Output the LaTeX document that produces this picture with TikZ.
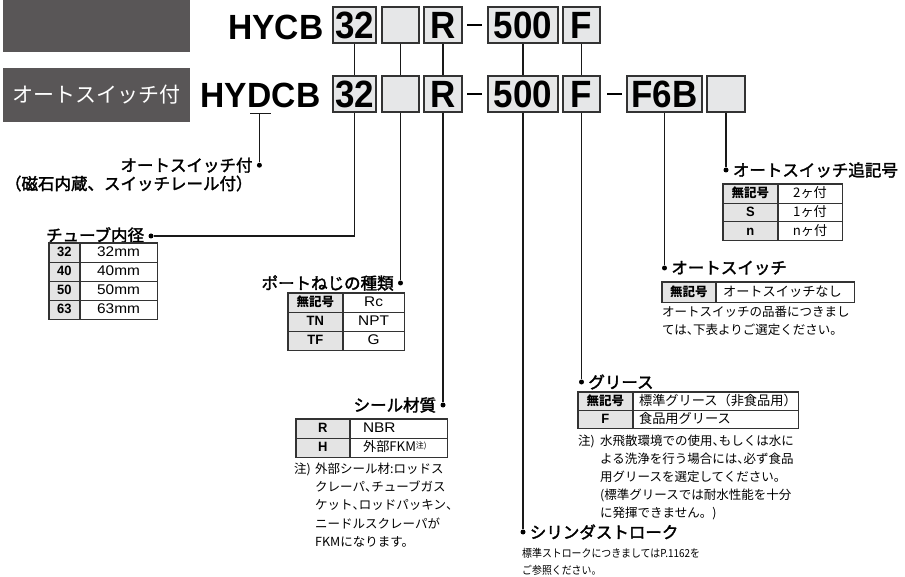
\documentclass[tikz,border=0pt]{standalone}
\usepackage{fontspec}
\usepackage{tikz}
\usetikzlibrary{positioning}
\newfontfamily\jpfont{Noto Sans CJK JP}
\newfontfamily\jphead{Noto Sans CJK JP}[FakeBold=2]
\newfontfamily\jpnarrow{Noto Sans CJK JP}[FakeStretch=0.9]
\newfontfamily\codefont{Liberation Sans}[FakeStretch=0.96]
\newfontfamily\boxfont{Liberation Sans}[FakeStretch=0.92]
\newfontfamily\latfont{Liberation Sans}[FakeStretch=1.1]
\newcommand\tc{{\addfontfeature{RawFeature=+halt}、}}
\newcommand\chu{\raisebox{3.5pt}{\fontsize{8}{8}\selectfont 注)}}
\definecolor{bannergray}{HTML}{595657}
\definecolor{boxgray}{HTML}{E6E7E8}
\definecolor{cellgray}{HTML}{E4E4E4}
\definecolor{rulegray}{HTML}{333333}

\tikzset{
  banner/.style={fill=bannergray, inner sep=0},
  model/.style={inner sep=0, font=\codefont\bfseries\fontsize{35}{35}\selectfont},
  codebox/.style={draw=rulegray, fill=boxgray, line width=1.3pt, minimum height=36,
    inner sep=0, text height=27, text depth=0, font=\boxfont\bfseries\fontsize{38}{38}\selectfont},
  dashmark/.style={fill=black, inner sep=0, minimum width=15, minimum height=2.7},
  lead/.style={line width=1.3pt, black!90},
  dot/.style={circle, fill=black, inner sep=0, minimum size=5},
  heading/.style={inner sep=0, font=\jphead\fontsize{16.5}{19}\selectfont},
  codecell/.style={draw=rulegray, fill=cellgray, line width=0.7pt, anchor=north west, inner sep=0,
    text height=10.5, text depth=2.5, font=\jpfont\bfseries\fontsize{12.5}{14}\selectfont},
  latcode/.style={codecell, font=\codefont\bfseries\fontsize{13.5}{14}\selectfont},
  valcell/.style={draw=rulegray, fill=white, line width=0.7pt, anchor=north west, inner sep=0,
    text height=10.5, text depth=2.5, font=\jpfont\fontsize{13.2}{15}\selectfont},
  latval/.style={valcell, font=\latfont\fontsize{14}{15}\selectfont},
  tabframe/.style={draw=rulegray, line width=1.2pt},
  note/.style={inner sep=0, align=left, anchor=north west, font=\jpfont\fontsize{12.5}{18.3}\selectfont},
}

\begin{document}
\begin{tikzpicture}[x=1pt, y=-1pt]
\useasboundingbox (0,0) rectangle (905,577);

% banners
\node[banner, minimum width=187, minimum height=52] (ban1) at (96.5,26) {};
\node[banner, minimum width=187, minimum height=54, text=white,
  font=\jpfont\fontsize{21}{21}\selectfont] (ban2) at (96.5,95) {オートスイッチ付};

% model codes
\node[model, anchor=base west] (hycb) at (228,40) {HYCB};
\node[model, anchor=base west] (hy) at (200,108) {HY};
\node[model, anchor=base west] (hyd) at (hy.base east) {D};
\node[model, anchor=base west] (hycb2) at (hyd.base east) {CB};

\foreach \n/\x/\w/\t in {32/354.5/43/32, bl/400.5/37/{}, R/443/38/R, 500/523/70/500, F/581.5/37/F}{
  \node[codebox, minimum width=\w] (t\n) at (\x,25) {\t};
  \node[codebox, minimum width=\w] (b\n) at (\x,94) {\t};
  \draw[lead] (t\n.south) -- (b\n.north);
}
\node[codebox, minimum width=75] (bF6B) at (664.5,94) {F6B};
\node[codebox, minimum width=38] (bbl2) at (726,94) {};
\node[dashmark] (dash1) at (474.5,25) {};
\node[dashmark] (dash2) at (474.5,94) {};
\node[dashmark] (dash3) at (614,94) {};

% dots
\path (hyd.south) ++(0,57) node[dot] (dAS) {};
\node[dot] (dTube) at (151,236) {};
\node[dot] (dPort) at (bbl.south |- 0,283) {};
\node[dot] (dSeal) at (bR.south |- 0,405) {};
\node[dot] (dGrease) at (bF.south |- 0,382) {};
\node[dot] (dStroke) at (b500.south |- 0,532) {};
\node[dot] (dSwitch) at (bF6B.south |- 0,268) {};
\node[dot] (dSuffix) at (bbl2.south |- 0,170) {};

% leads
\draw[lead] ([shift={(3pt,-5pt)}]hyd.south west) -- ([shift={(-1pt,-5pt)}]hyd.south east);
\draw[lead] ([yshift=-5pt]hyd.south) -- (dAS);
\draw[lead] (b32.south) |- (dTube);
\draw[lead] (bbl.south) -- (dPort);
\draw[lead] (bR.south) -- (dSeal);
\draw[lead] (b500.south) -- (dStroke);
\draw[lead] (bF.south) -- (dGrease);
\draw[lead] (bF6B.south) -- (dSwitch);
\draw[lead] (bbl2.south) -- (dSuffix);

% headings
\node[heading, left=4pt of dAS] (lAS1) {オートスイッチ付};
\node[heading, anchor=north east] (lAS2) at ([yshift=-2.5pt]lAS1.south east) {（磁石内蔵、スイッチレール付）};
\node[heading, left=4pt of dTube, yshift=1pt] (lTube) {チューブ内径};
\node[heading, left=4pt of dPort] (lPort) {ポートねじの種類};
\node[heading, left=4pt of dSeal] (lSeal) {シール材質};
\node[heading, right=4pt of dGrease] (lGrease) {グリース};
\node[heading, right=4pt of dStroke] (lStroke) {シリンダストローク};
\node[heading, right=4pt of dSwitch] (lSwitch) {オートスイッチ};
\node[heading, right=4pt of dSuffix] (lSuffix) {オートスイッチ追記号};

% チューブ内径
\foreach \c/\v [count=\i] in {32/32mm,40/40mm,50/50mm,63/63mm}{
  \node[latcode, minimum width=30, minimum height=19] (tube-c\i) at (49,224+19*\i) {\c};
  \node[latval, minimum width=77, minimum height=19] (tube-v\i) at (tube-c\i.north east) {\v};
}
\draw[tabframe] (tube-c1.north west) rectangle (tube-v4.south east);

% ポートねじ
\node[codecell, minimum width=54, minimum height=19] (port-c1) at (288,293) {無記号};
\node[latval, minimum width=61, minimum height=19] (port-v1) at (port-c1.north east) {Rc};
\foreach \c/\v [count=\i from 2] in {TN/NPT,TF/G}{
  \node[latcode, minimum width=54, minimum height=19] (port-c\i) at (288,274+19*\i) {\c};
  \node[latval, minimum width=61, minimum height=19] (port-v\i) at (port-c\i.north east) {\v};
}
\draw[tabframe] (port-c1.north west) rectangle (port-v3.south east);

% シール材質
\node[latcode, minimum width=53, minimum height=19] (seal-c1) at (296,419) {R};
\node[latval, inner xsep=13, text width=71, align=left, minimum height=19] (seal-v1) at (seal-c1.north east) {NBR};
\node[latcode, minimum width=53, minimum height=19] (seal-c2) at (296,438) {H};
\node[valcell, inner xsep=13, text width=71, align=left, minimum height=19] (seal-v2) at (seal-c2.north east) {外部FKM\chu};
\draw[tabframe] (seal-c1.north west) rectangle (seal-v2.south east);
\node[note] (nSeal0) at (294,462.4) {注)};
\node[note] (nSeal) at (315,462.4) {外部シール材:ロッドス\\クレーパ\tc チューブガス\\ケット\tc ロッドパッキン\tc\\ニードルスクレーパが\\FKMになります。};

% グリース
\node[codecell, minimum width=54, minimum height=18] (grease-c1) at (578,392) {無記号};
\node[valcell, inner xsep=6, text width=153, align=left, minimum height=18] (grease-v1) at (grease-c1.north east) {標準グリース（非食品用）};
\node[latcode, minimum width=54, minimum height=18] (grease-c2) at (578,410) {F};
\node[valcell, inner xsep=6, text width=153, align=left, minimum height=18] (grease-v2) at (grease-c2.north east) {食品用グリース};
\draw[tabframe] (grease-c1.north west) rectangle (grease-v2.south east);
\node[note, font=\jpfont\fontsize{12.5}{18}\selectfont] (nGrease0) at (578,434.4) {注)};
\node[note, font=\jpfont\fontsize{12.5}{18}\selectfont] (nGrease) at (600,434.4) {水飛散環境での使用\tc もしくは水に\\よる洗浄を行う場合には\tc 必ず食品\\用グリースを選定してください。\\(標準グリースでは耐水性能を十分\\に発揮できません。)};

% オートスイッチ追記号
\node[codecell, minimum width=54, minimum height=18.67] (suffix-c1) at (723,184) {無記号};
\node[valcell, minimum width=64, minimum height=18.67] (suffix-v1) at (suffix-c1.north east) {2ヶ付};
\foreach \c/\v [count=\i from 2] in {S/1ヶ付,n/nヶ付}{
  \node[latcode, minimum width=54, minimum height=18.67] (suffix-c\i) at (723,165.33+18.67*\i) {\c};
  \node[valcell, minimum width=64, minimum height=18.67] (suffix-v\i) at (suffix-c\i.north east) {\v};
}
\draw[tabframe] (suffix-c1.north west) rectangle (suffix-v3.south east);

% オートスイッチ
\node[codecell, minimum width=53, minimum height=20] (switch-c1) at (662,282) {無記号};
\node[valcell, inner xsep=7, text width=124, align=left, minimum height=20] (switch-v1) at (switch-c1.north east) {オートスイッチなし};
\draw[tabframe] (switch-c1.north west) rectangle (switch-v1.south east);
\node[note, font=\jpfont\fontsize{12.5}{18}\selectfont] (nSwitch) at (662,306.4) {オートスイッチの品番につきまし\\ては\tc 下表よりご選定ください。};

% シリンダストローク
\node[note, font=\jpnarrow\fontsize{11}{17}\selectfont] (nStroke) at (522,548) {標準ストロークにつきましてはP.1162を\\ご参照ください。};
\end{tikzpicture}
\end{document}
